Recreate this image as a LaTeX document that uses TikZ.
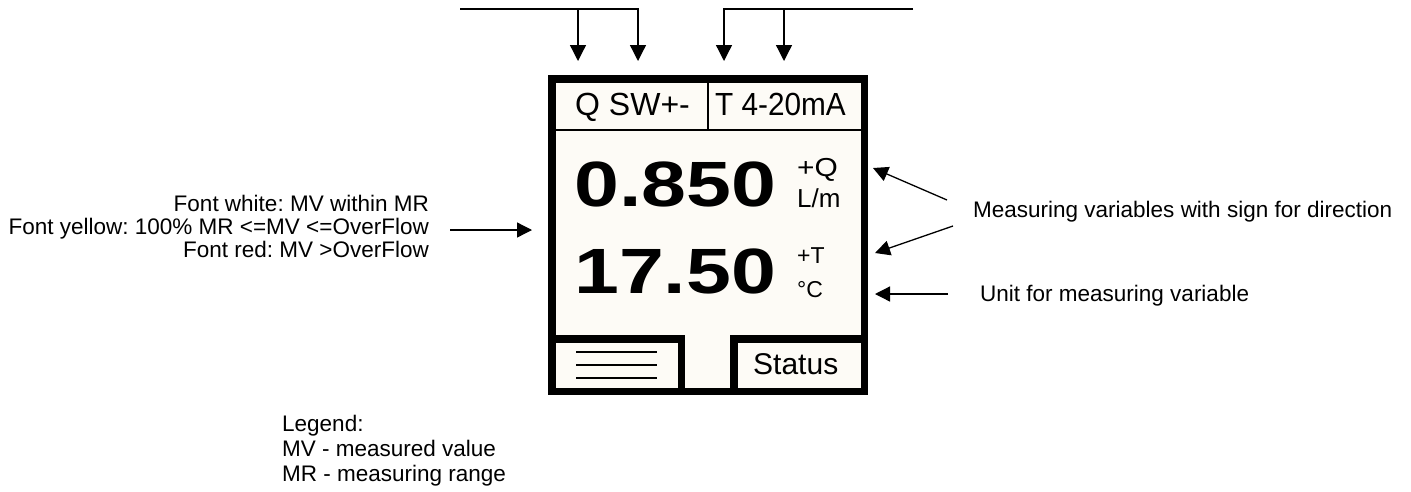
\documentclass[tikz,border=0pt]{standalone}
\usepackage{fontspec}
\usepackage{graphicx}
\setmainfont{Liberation Sans}
\usetikzlibrary{arrows.meta}
\definecolor{cream}{RGB}{253,251,246}
\frenchspacing
\tikzset{
  thin line/.style={line width=1.3pt},
  frame/.style={line width=7.5pt, draw=black},
  arr/.style={thin line, -{Triangle[width=15pt,length=15pt]}},
  toparr/.style={thin line, -{Triangle[width=16pt,length=16pt]}},
  label/.style={inner sep=0pt, font=\fontsize{22.5}{24}\selectfont},
  hdr/.style={inner sep=0pt, font=\fontsize{32}{32}\selectfont},
  small/.style={inner sep=0pt, font=\fontsize{26}{26}\selectfont},
  tiny/.style={inner sep=0pt, font=\fontsize{23}{23}\selectfont},
  big/.style={inner sep=0pt, font=\fontsize{64}{64}\selectfont\bfseries},
}
\begin{document}
\begin{tikzpicture}[x=1pt,y=-1pt]
\useasboundingbox (0,0) rectangle (1411,491);

% display
\path[fill=cream] (548,75) rectangle (868,395);
\draw[frame] (551.75,78.75) rectangle (864.25,391.25);
\draw[thin line] (555,130) -- (861,130);
\draw[thin line] (708,83) -- (708,130);
\draw[frame] (551.75,339) rectangle (681.5,391.25);
\draw[frame] (734,339) rectangle (864.25,391.25);
\foreach \yy in {352,365,378} \draw[line width=1.6pt] (576,\yy) -- (657,\yy);

\node[hdr, anchor=base west] (qsw) at (575,115) {Q SW+-};
\node[hdr, anchor=base west] (t420) at (715,115) {\scalebox{0.93}[1]{T 4-20mA}};
\node[big, anchor=base west] (v1) at (574,206) {\scalebox{1.26}[1]{0.850}};
\node[big, anchor=base west] (v2) at (574,293) {\scalebox{1.26}[1]{17.50}};
\node[small, anchor=base west] (pq) at (797,176) {\scalebox{1.15}[1]{+Q}};
\node[small, anchor=base west] (lm) at (797,207) {L/m};
\node[tiny, anchor=base west] (pt) at (797,263) {+T};
\node[tiny, anchor=base west] (dc) at (797,297) {°C};
\node[inner sep=0pt, font=\fontsize{30}{30}\selectfont, anchor=base west] (status) at (753,374) {Status};

% top connectors
\coordinate (q1) at (578,61);
\coordinate (q2) at (638,61);
\coordinate (t1) at (724,61);
\coordinate (t2) at (784,61);
\coordinate (qs) at (460,9);
\coordinate (ts) at (913,9);
\draw[toparr] (qs) -| (q2);
\draw[toparr] (q1 |- qs) -- (q1);
\draw[toparr] (ts) -| (t1);
\draw[toparr] (t2 |- ts) -- (t2);

% left labels
\node[label, anchor=base east] (fw) at (429,211) {Font white: MV within MR};
\node[label, anchor=base east] (fy) at (429,234) {Font yellow: 100\% MR <=MV <=OverFlow};
\node[label, anchor=base east] (fr) at (429,257) {Font red: MV >OverFlow};
\coordinate (la) at (450,230);
\coordinate (lb) at (532,230);
\draw[arr] (la) -- (lb);

% right labels
\node[label, anchor=base west] (mv) at (973,217) {Measuring variables with sign for direction};
\node[label, anchor=base west] (unit) at (980,301) {Unit for measuring variable};
\coordinate (r1s) at (947,200);
\coordinate (r1e) at (873,168);
\coordinate (r2s) at (953,226);
\coordinate (r2e) at (875,253);
\coordinate (r3s) at (948,294);
\coordinate (r3e) at (875,294);
\draw[arr] (r1s) -- (r1e);
\draw[arr] (r2s) -- (r2e);
\draw[arr] (r3s) -- (r3e);

% legend
\node[label, anchor=base west] (lg1) at (282,431) {Legend:};
\node[label, anchor=base west] (lg2) at (282,456) {MV - measured value};
\node[label, anchor=base west] (lg3) at (282,481) {MR - measuring range};
\end{tikzpicture}
\end{document}
